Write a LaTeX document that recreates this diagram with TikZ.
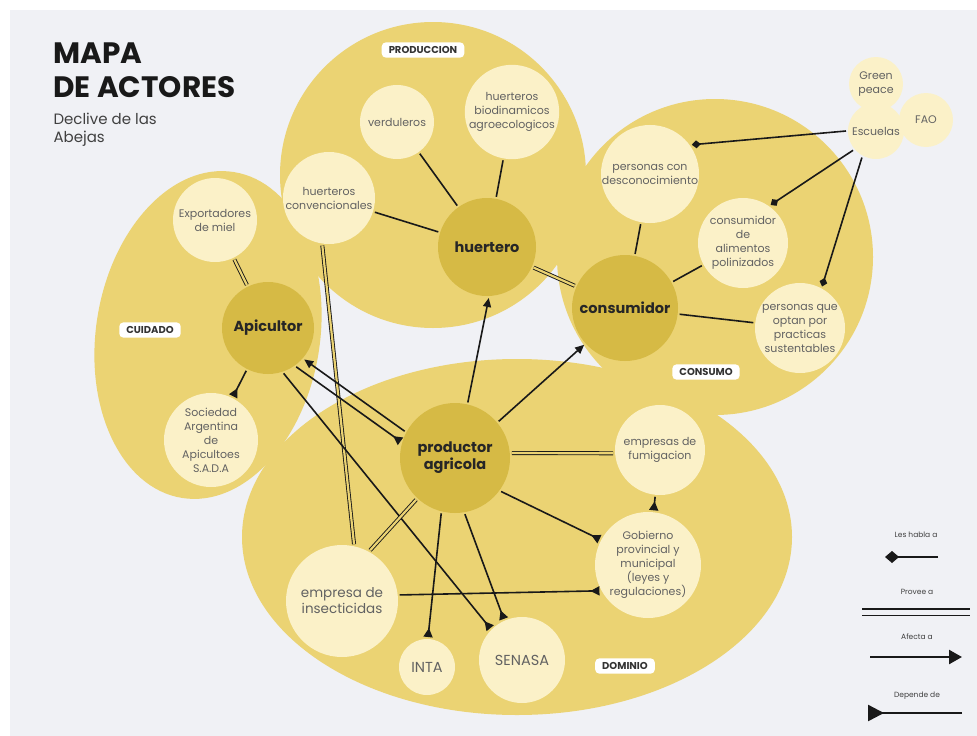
\documentclass[tikz,border=0pt]{standalone}
\usepackage{fontspec}
\setmainfont{Poppins}
\usetikzlibrary{arrows.meta}
\usepackage{xcolor}

\definecolor{fondo}{HTML}{F0F1F5}
\definecolor{mancha}{HTML}{EBD373}
\definecolor{claro}{HTML}{FBF1C8}
\definecolor{oscuro}{HTML}{D6BA45}
\definecolor{texto}{HTML}{626262}

\begin{document}
\begin{tikzpicture}[x=1pt,y=-1pt,
        actor/.style={circle, fill=oscuro, inner sep=0pt, outer sep=2pt, align=center,
            font=\bfseries\fontsize{14.5}{17}\selectfont, text=black!85},
        grupo/.style={circle, fill=claro, inner sep=0pt, outer sep=2pt, align=center,
            font=\fontsize{11}{14}\selectfont, text=texto},
        rotulo/.style={fill=white, rounded corners=4pt, inner xsep=7pt, inner ysep=4pt,
            font=\bfseries\fontsize{10}{12}\selectfont, text=black!80},
        leyenda/.style={font=\fontsize{7.5}{9}\selectfont, text=black!75},
        simple/.style={line width=1.6pt, black!90},
        habla/.style={line width=1.6pt, black!90, -{Diamond[length=9pt,width=8pt]}},
        provee/.style={line width=0.9pt, black!90, double=mancha, double distance=2.2pt},
        afecta/.style={line width=1.6pt, black!90, -{Triangle[length=9pt,width=8pt]}},
        depende/.style={line width=1.6pt, black!90, -{Triangle[reversed,length=9pt,width=9pt]}}]

        \useasboundingbox (0,0) rectangle (977,736);
        \fill[white] (0,0) rectangle (977,736);
        \fill[fondo] (10,10) rectangle (977,736);

        % grandes manchas de cada zona
        \fill[mancha] (433,175) circle[radius=153pt];
        \fill[mancha] (715,257) circle[radius=158pt];
        \fill[mancha] (208,335) ellipse[x radius=112pt, y radius=165pt, rotate=-9];
        \fill[mancha] (517,537) ellipse[x radius=275pt, y radius=178pt];

        % titulo
        \node[anchor=base west, font=\bfseries\fontsize{29.5}{34}\selectfont, text=black!90] (titulo) at (50,63) {MAPA};
        \node[anchor=base west, font=\bfseries\fontsize{29.5}{34}\selectfont, text=black!90] (titulob) at (50,97) {DE ACTORES};
        \node[anchor=base west, font=\fontsize{15}{18}\selectfont, text=black!75] (subtitulo) at (50,124) {Declive de las};
        \node[anchor=base west, font=\fontsize{15}{18}\selectfont, text=black!75] (subtitulob) at (50,142) {Abejas};

        % rotulos de zona
        \node[rotulo] (produccion) at (423,50) {PRODUCCION};
        \node[rotulo] (cuidado) at (150,330) {CUIDADO};
        \node[rotulo] (consumo) at (706,372) {CONSUMO};
        \node[rotulo] (dominio) at (625,666) {DOMINIO};

        % actores centrales
        \node[actor, minimum size=98pt] (huertero) at (487,247) {huertero};
        \node[actor, minimum size=106pt] (consumidor) at (625,308) {consumidor};
        \node[actor, minimum size=92pt] (apicultor) at (268,328) {Apicultor};
        \node[actor, minimum size=110pt] (productor) at (455,458) {productor\\agricola};

        % produccion
        \node[grupo, minimum size=74pt] (verduleros) at (397,122) {verduleros};
        \node[grupo, minimum size=90pt] (biodinamicos) at (512,112) {huerteros\\biodinamicos\\agroecologicos};
        \node[grupo, minimum size=92pt] (convencionales) at (329,198) {huerteros\\convencionales};

        % consumo
        \node[grupo, minimum size=94pt] (desconocimiento) at (650,174) {personas con\\desconocimiento};
        \node[grupo, minimum size=90pt] (polinizados) at (743,243) {consumidor\\de\\alimentos\\polinizados};
        \node[grupo, minimum size=90pt] (sustentables) at (800,328) {personas que\\optan por\\practicas\\sustentables};
        \node[grupo, minimum size=54pt] (greenpeace) at (876,84) {Green\\peace};
        \node[grupo, minimum size=54pt] (fao) at (926,120) {FAO};
        \node[grupo, minimum size=56pt] (escuelas) at (876,131) {Escuelas};

        % cuidado
        \node[grupo, minimum size=84pt] (exportadores) at (215,220) {Exportadores\\de miel};
        \node[grupo, minimum size=94pt] (sociedad) at (211,440) {Sociedad\\Argentina\\de\\Apicultoes\\S.A.D.A};

        % dominio
        \node[grupo, minimum size=112pt, font=\fontsize{13.5}{16}\selectfont] (insecticidas) at (342,601) {empresa de\\insecticidas};
        \node[grupo, minimum size=56pt, font=\fontsize{14.5}{16}\selectfont] (inta) at (427,667) {INTA};
        \node[grupo, minimum size=86pt, font=\fontsize{14.5}{16}\selectfont] (senasa) at (522,660) {SENASA};
        \node[grupo, minimum size=90pt] (fumigacion) at (660,450) {empresas de\\fumigacion};
        \node[grupo, minimum size=106pt] (gobierno) at (648,565) {Gobierno\\provincial y\\municipal\\(leyes y\\regulaciones)};

        % relaciones
        \draw[simple] (verduleros) -- (huertero);
        \draw[simple] (biodinamicos) -- (huertero);
        \draw[simple] (convencionales) -- (huertero);
        \draw[provee] (convencionales.-98) -- (insecticidas.78);
        \draw[provee] (huertero) -- (consumidor);

        \draw[simple] (desconocimiento) -- (consumidor);
        \draw[simple] (polinizados) -- (consumidor);
        \draw[simple] (sustentables) -- (consumidor);
        \draw[habla] (escuelas.west) -- (desconocimiento.35);
        \draw[habla] (escuelas.220) -- (polinizados.54);
        \draw[habla] (escuelas.242) -- (sustentables.62);

        \draw[provee] (exportadores) -- (apicultor);
        \draw[depende] (apicultor) -- (sociedad);
        \draw[afecta] (productor.152) -- (apicultor.-41);
        \draw[depende] (apicultor.-54) -- (productor.163);
        \draw[depende] (apicultor.-71) -- (senasa.135);

        \draw[afecta] (productor.77) -- (huertero.-88);
        \draw[afecta] (productor.40) -- (consumidor.222);
        \draw[provee] (productor.5) -- (fumigacion.184);
        \draw[depende] (productor.-36) -- (gobierno.152);
        \draw[depende] (productor.-80) -- (senasa.114);
        \draw[depende] (productor.256) -- (inta.88);
        \draw[provee] (productor.227) -- (insecticidas.61);
        \draw[depende] (insecticidas.6) -- (gobierno.208);
        \draw[depende] (fumigacion) -- (gobierno);

        % referencias
        \node[leyenda] (lhabla) at (916,535) {Les habla a};
        \node[leyenda] (lprovee) at (917,592) {Provee a};
        \node[leyenda] (lafecta) at (917,637) {Afecta a};
        \node[leyenda] (ldepende) at (917,696) {Depende de};
        \coordinate (hablaA) at (938,557);
        \coordinate (hablaB) at (885,557);
        \coordinate (proveeA) at (862,612);
        \coordinate (proveeB) at (970,612);
        \coordinate (afectaA) at (870,657);
        \coordinate (afectaB) at (962,657);
        \coordinate (dependeA) at (962,713);
        \coordinate (dependeB) at (868,713);
        \draw[habla, line width=2pt, -{Diamond[length=14pt,width=12pt]}] (hablaA) -- (hablaB);
        \draw[provee, line width=1.5pt, double=fondo, double distance=5pt] (proveeA) -- (proveeB);
        \draw[afecta, line width=2.4pt, -{Triangle[length=13pt,width=14pt]}] (afectaA) -- (afectaB);
        \draw[depende, line width=2.4pt, -{Triangle[reversed,length=16pt,width=16pt]}] (dependeA) -- (dependeB);
\end{tikzpicture}
\end{document}
